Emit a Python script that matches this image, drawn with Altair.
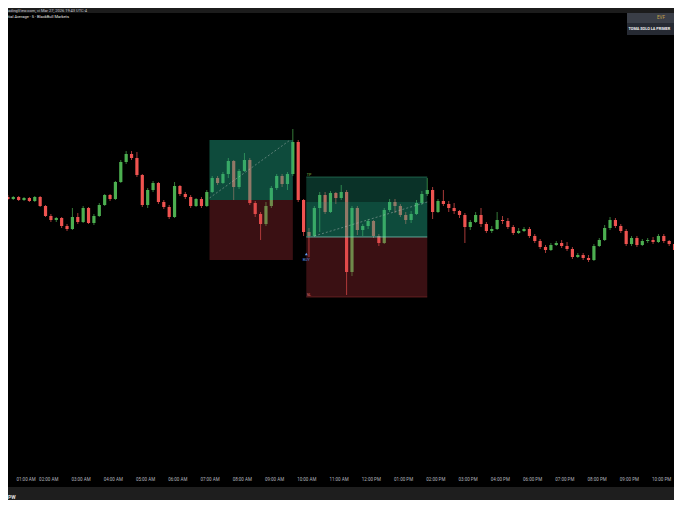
import altair as alt
import pandas as pd

# ---------------- data ----------------
GREEN = "#4caf50"
RED = "#ef5350"

# 10-minute candles, 00:40 -> 16:50 and 18:00 -> 22:20 (17:00-18:00 break collapsed)
SESSION_1 = pd.date_range("2026-03-27 00:40", "2026-03-27 16:50", freq="10min")
SESSION_2 = pd.date_range("2026-03-27 18:00", "2026-03-27 22:20", freq="10min")
TIMES = list(SESSION_1) + list(SESSION_2)

OPEN = [45515, 45505, 45515, 45500, 45510, 45495, 45515, 45470, 45420, 45400,
        45410, 45370, 45355, 45415, 45390, 45460, 45385, 45420, 45475, 45525,
        45505, 45590, 45690, 45730, 45710, 45625, 45475, 45550, 45585, 45490,
        45465, 45415, 45570, 45530, 45515, 45470, 45505, 45470, 45540, 45610,
        45585, 45630, 45695, 45565, 45645, 45700, 45485, 45430, 45380, 45470,
        45560, 45620, 45580, 45630, 45790, 45500, 45340, 45320, 45460, 45525,
        45440, 45535, 45510, 45540, 45140, 45460, 45350, 45370, 45395, 45320,
        45285, 45450, 45490, 45470, 45425, 45400, 45430, 45485, 45530, 45550,
        45440, 45495, 45480, 45460, 45445, 45425, 45365, 45390, 45425, 45380,
        45345, 45355, 45400, 45395, 45365, 45335, 45345, 45355, 45320, 45295,
        45265, 45250, 45275, 45285, 45270, 45255, 45215, 45225, 45210, 45200,
        45270, 45300, 45360, 45400, 45370, 45345, 45280, 45310, 45275, 45295,
        45300, 45290, 45320, 45295, 45280]
HIGH = [45525, 45520, 45520, 45515, 45515, 45520, 45520, 45475, 45430, 45415,
        45415, 45380, 45460, 45435, 45470, 45465, 45430, 45485, 45530, 45530,
        45595, 45700, 45745, 45745, 45740, 45630, 45560, 45595, 45590, 45500,
        45475, 45590, 45575, 45540, 45525, 45510, 45515, 45550, 45620, 45620,
        45640, 45710, 45700, 45655, 45735, 45710, 45495, 45440, 45490, 45570,
        45630, 45630, 45640, 45855, 45800, 45505, 45360, 45470, 45540, 45540,
        45545, 45540, 45575, 45550, 45470, 45470, 45380, 45405, 45400, 45330,
        45460, 45505, 45505, 45480, 45440, 45445, 45500, 45545, 45610, 45565,
        45505, 45550, 45495, 45485, 45450, 45435, 45400, 45440, 45460, 45390,
        45370, 45440, 45420, 45410, 45375, 45360, 45365, 45365, 45330, 45305,
        45275, 45285, 45295, 45300, 45290, 45265, 45235, 45235, 45225, 45280,
        45310, 45375, 45415, 45410, 45380, 45355, 45320, 45320, 45305, 45310,
        45315, 45330, 45330, 45300, 45290]
LOW = [45500, 45500, 45495, 45495, 45490, 45490, 45465, 45415, 45390, 45390,
       45360, 45345, 45350, 45380, 45385, 45380, 45375, 45415, 45470, 45495,
       45500, 45585, 45680, 45700, 45615, 45465, 45460, 45540, 45480, 45455,
       45405, 45410, 45520, 45505, 45460, 45465, 45460, 45465, 45535, 45575,
       45580, 45610, 45500, 45555, 45640, 45475, 45415, 45300, 45370, 45460,
       45550, 45565, 45550, 45620, 45490, 45320, 45215, 45315, 45340, 45430,
       45435, 45480, 45500, 45025, 45120, 45325, 45320, 45355, 45310, 45270,
       45280, 45440, 45435, 45415, 45380, 45385, 45425, 45475, 45520, 45405,
       45435, 45470, 45440, 45430, 45410, 45285, 45350, 45385, 45365, 45335,
       45335, 45350, 45380, 45355, 45325, 45330, 45340, 45310, 45285, 45255,
       45235, 45245, 45270, 45260, 45245, 45205, 45210, 45200, 45190, 45195,
       45265, 45295, 45350, 45360, 45335, 45270, 45270, 45265, 45270, 45285,
       45280, 45285, 45285, 45270, 45235]
CLOSE = [45505, 45515, 45500, 45510, 45495, 45515, 45470, 45420, 45400, 45410,
         45370, 45355, 45415, 45390, 45460, 45385, 45420, 45475, 45525, 45505,
         45590, 45690, 45730, 45710, 45625, 45475, 45550, 45585, 45490, 45465,
         45415, 45570, 45530, 45515, 45470, 45505, 45470, 45540, 45610, 45585,
         45630, 45695, 45565, 45645, 45700, 45485, 45430, 45380, 45470, 45560,
         45620, 45580, 45630, 45790, 45500, 45340, 45320, 45460, 45525, 45440,
         45535, 45510, 45540, 45140, 45460, 45350, 45370, 45395, 45320, 45285,
         45450, 45490, 45470, 45425, 45400, 45430, 45485, 45530, 45550, 45440,
         45495, 45480, 45460, 45445, 45425, 45365, 45390, 45425, 45380, 45345,
         45355, 45400, 45395, 45365, 45335, 45345, 45355, 45320, 45295, 45265,
         45250, 45275, 45285, 45270, 45255, 45215, 45225, 45210, 45200, 45270,
         45300, 45360, 45400, 45370, 45345, 45280, 45310, 45275, 45295, 45300,
         45290, 45320, 45295, 45280, 45250]

TICK_LABELS = ["01:00 AM", "02:00 AM", "03:00 AM", "04:00 AM", "05:00 AM",
               "06:00 AM", "07:00 AM", "08:00 AM", "09:00 AM", "10:00 AM",
               "11:00 AM", "12:00 PM", "01:00 PM", "02:00 PM", "03:00 PM",
               "04:00 PM", "06:00 PM", "07:00 PM", "08:00 PM", "09:00 PM",
               "10:00 PM"]

# long-position tools
BOX_START = ["07:00", "10:00"]
BOX_END = ["09:35", "13:45"]
BOX_TP = [45800, 45615]
BOX_ENTRY = [45500, 45315]
BOX_SL = [45200, 45015]
BOX_PROGRESS = [45800, 45490]

PATH_TRADE = [1, 1, 2, 2]
PATH_TIME = ["07:00", "09:30", "10:15", "13:45"]
PATH_PRICE = [45510, 45800, 45320, 45490]

HEADER_1 = "adingView.com, vi Mar 27, 2026 19:43 UTC-4"
HEADER_2 = "tial Average · 5 · BlackBull Markets"
PANEL_TITLE = "EVF"
PANEL_TEXT = "TOMA SOLO LA PRIMER"

# ---------------- layout ----------------
W, H = 666, 462
X_DOMAIN = [0.9084, 21.2443]
Y_DOMAIN = [44150, 46460]


def axis_pos(ts):
    h = ts.hour + ts.minute / 60
    if ts.hour >= 18:
        h -= 1
    return h


def hm(s):
    return axis_pos(pd.Timestamp("2026-03-27 " + s))


xs = alt.Scale(domain=X_DOMAIN, nice=False, zero=False)
ys = alt.Scale(domain=Y_DOMAIN, nice=False, zero=False)

candles = pd.DataFrame({
    "pos": [axis_pos(t) + 5 / 60 for t in TIMES],
    "open": OPEN, "high": HIGH, "low": LOW, "close": CLOSE,
})

boxes = pd.DataFrame({
    "start": [hm(s) for s in BOX_START], "end": [hm(s) for s in BOX_END],
    "tp": BOX_TP, "entry": BOX_ENTRY, "sl": BOX_SL, "prog": BOX_PROGRESS,
})
active = boxes.iloc[[1]]
paths = pd.DataFrame({"trade": PATH_TRADE, "pos": [hm(s) for s in PATH_TIME],
                      "price": PATH_PRICE})

color_cond = alt.condition("datum.close >= datum.open", alt.value(GREEN), alt.value(RED))

# label expression: tick value k (1..21) -> TICK_LABELS[k-1]
label_expr = "''"
for k in range(len(TICK_LABELS), 0, -1):
    label_expr = f"datum.value < {k + 0.5} ? '{TICK_LABELS[k - 1]}' : ({label_expr})"

x_axis = alt.Axis(values=list(range(1, 22)), labelExpr=label_expr,
                  title=None, domain=False, ticks=False, tickSize=0, grid=False,
                  labelColor="#b2b5be", labelFontSize=4.5, labelFont="Roboto",
                  labelPadding=6.7, labelOverlap=False, labelFlush=10)


def X(field):
    return alt.X(field, scale=xs, axis=x_axis)


def Y(field):
    return alt.Y(field, scale=ys, axis=None)


base = alt.Chart(candles)
wicks = base.mark_rule(strokeWidth=0.7, clip=True).encode(
    x=X("pos:Q"), y=Y("low:Q"), y2="high:Q", color=color_cond)
bodies = base.mark_bar(size=3.2, clip=True).encode(
    x=X("pos:Q"), y=Y("open:Q"), y2="close:Q", color=color_cond)

bx = alt.Chart(boxes)
tp_zone = bx.mark_rect(color="#22a584", opacity=0.3).encode(
    x=X("start:Q"), x2="end:Q", y=Y("entry:Q"), y2="tp:Q")
prog_zone = bx.mark_rect(color="#22a584", opacity=0.22).encode(
    x=X("start:Q"), x2="end:Q", y=Y("entry:Q"), y2="prog:Q")
sl_zone = bx.mark_rect(color="#c0353e", opacity=0.3).encode(
    x=X("start:Q"), x2="end:Q", y=Y("sl:Q"), y2="entry:Q")

ac = alt.Chart(active)
entry_line = ac.mark_rule(color="#7fd1c0", strokeWidth=0.8, opacity=0.9).encode(
    x=X("start:Q"), x2="end:Q", y=Y("entry:Q"))
tp_line = ac.mark_rule(color="#2b8a69", strokeWidth=0.6).encode(
    x=X("start:Q"), x2="end:Q", y=Y("tp:Q"))
sl_line = ac.mark_rule(color="#8a2b2b", strokeWidth=0.6).encode(
    x=X("start:Q"), x2="end:Q", y=Y("sl:Q"))
tp_text = ac.mark_text(text="TP", color="#8bc34a", fontSize=3.5, align="left",
                       baseline="bottom", dx=0.5, dy=-0.5).encode(
    x=X("start:Q"), y=Y("tp:Q"))
sl_text = ac.mark_text(text="SL", color="#e57373", fontSize=3.5, align="left",
                       baseline="bottom", dx=0.5).encode(
    x=X("start:Q"), y=Y("sl:Q"))
buy_mark = ac.mark_point(shape="triangle-up", filled=True, size=8, color="#5b9cf6",
                         opacity=1).encode(
    x=X("start:Q"), y=Y("entry:Q"), yOffset=alt.value(17))
buy_text = ac.mark_text(text="BUY", color="#5b9cf6", fontSize=3.5, dy=23).encode(
    x=X("start:Q"), y=Y("entry:Q"))

path = alt.Chart(paths).mark_line(strokeDash=[2, 2], strokeWidth=0.7,
                                  color="#c8c8c8", opacity=0.6).encode(
    x=X("pos:Q"), y=Y("price:Q"), detail="trade:N")

one = pd.DataFrame({"a": [0]})
header_band = alt.Chart(one).mark_rect(color="#1c1c1c").encode(
    x=alt.value(0), x2=alt.value(W), y=alt.value(0), y2=alt.value(5))
footer_band = alt.Chart(one).mark_rect(color="#1e1e1e").encode(
    x=alt.value(0), x2=alt.value(W), y=alt.value(479), y2=alt.value(492))
panel_top = alt.Chart(one).mark_rect(color="#3a3e47").encode(
    x=alt.value(619), x2=alt.value(W), y=alt.value(5), y2=alt.value(15))
panel_bot = alt.Chart(one).mark_rect(color="#262a33").encode(
    x=alt.value(619), x2=alt.value(W), y=alt.value(15), y2=alt.value(27))


def label(txt, x, y, size, color, align="left", weight="normal"):
    return alt.Chart(pd.DataFrame({"t": [txt]})).mark_text(
        align=align, baseline="middle", fontSize=size, color=color,
        font="Roboto", fontWeight=weight).encode(
        x=alt.value(x), y=alt.value(y), text="t:N")


texts = [
    label(HEADER_1, 0, 2.5, 4, "#c8cbd2"),
    label(HEADER_2, 0, 8.5, 4, "#e6e6e6"),
    label(PANEL_TITLE, 653, 10, 4.5, "#c9a64a", align="center"),
    label(PANEL_TEXT, 620.5, 20.5, 3.8, "#f0f0f0", weight="bold"),
    label("PW", 0, 489, 5, "#e0e0e0", weight="bold"),
]

chart = alt.layer(
    header_band, footer_band,
    wicks, bodies,
    tp_zone, prog_zone, sl_zone,
    path, entry_line, tp_line, sl_line,
    tp_text, sl_text, buy_mark, buy_text,
    panel_top, panel_bot, *texts,
).properties(
    width=W, height=H,
    autosize=alt.AutoSizeParams(type="none"),
    padding={"left": 0, "top": 0, "right": 0, "bottom": 492 - H},
).configure(background="#000000").configure_view(stroke=None)

chart.save("out.html", embed_options={"renderer": "svg", "actions": False})
